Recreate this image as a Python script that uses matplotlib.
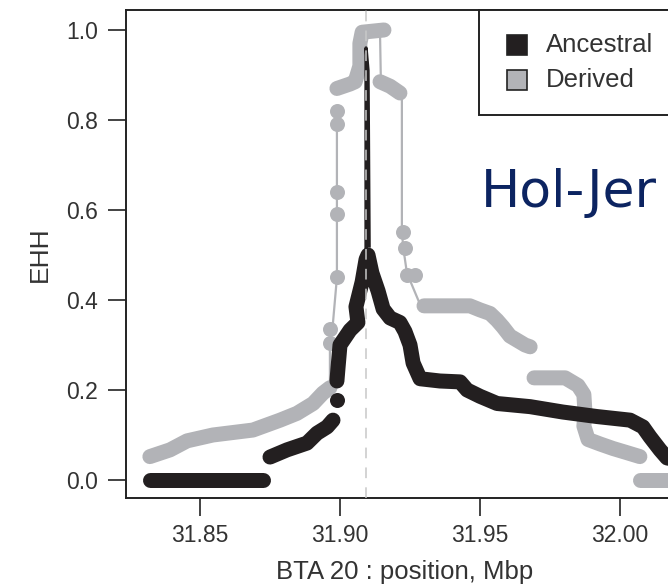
import matplotlib
matplotlib.use("Agg")
import matplotlib.pyplot as plt
from matplotlib.patches import Rectangle

plt.rcParams['font.family'] = ['Liberation Sans', 'DejaVu Sans']

# ---------------- data (position in Mbp, EHH) ----------------
# Ancestral allele: dense runs of SNPs (drawn as thick bands)
anc_flat_pos = [31.8321, 31.8725]
anc_flat_ehh = [0.000, 0.000]
anc_left_pos = [31.8750, 31.8811, 31.8882, 31.8918, 31.8954, 31.8975]
anc_left_ehh = [0.051, 0.067, 0.082, 0.104, 0.118, 0.133]
anc_blob_pos = [31.8989]
anc_blob_ehh = [0.178]
anc_peak_pos = [31.8989, 31.8993, 31.9000, 31.9036, 31.9064, 31.9057, 31.9079, 31.9093,
                31.9100, 31.9114, 31.9136, 31.9154, 31.9179, 31.9214, 31.9232, 31.9250,
                31.9261, 31.9286, 31.9357, 31.9429, 31.9454, 31.9500, 31.9561, 31.9679,
                31.9796, 31.9918, 32.0036, 32.0082, 32.0107, 32.0143, 32.0168, 32.0200]
anc_peak_ehh = [0.220, 0.250, 0.300, 0.333, 0.350, 0.385, 0.440, 0.490,
                0.500, 0.460, 0.420, 0.380, 0.360, 0.350, 0.330, 0.300,
                0.260, 0.225, 0.220, 0.218, 0.200, 0.186, 0.170, 0.163,
                0.151, 0.141, 0.133, 0.118, 0.096, 0.067, 0.049, 0.045]
# isolated SNPs near the core (thin connecting line)
anc_core_pos = [31.9093, 31.9093, 31.9100, 31.9104]
anc_core_ehh = [0.500, 0.960, 0.910, 0.520]

# Derived allele
der_left_pos = [31.8321, 31.8393, 31.8454, 31.8546, 31.8689, 31.8786, 31.8846,
                31.8904, 31.8939, 31.8964]
der_left_ehh = [0.052, 0.067, 0.087, 0.100, 0.111, 0.133, 0.148,
                0.170, 0.193, 0.205]
der_rise_pos = [31.8964, 31.8964, 31.8975, 31.8989, 31.8989]
der_rise_ehh = [0.205, 0.305, 0.350, 0.450, 0.830]
der_rise_blob_pos = [31.8964, 31.8964, 31.8989, 31.8989, 31.8989, 31.8989, 31.8989]
der_rise_blob_ehh = [0.305, 0.335, 0.450, 0.590, 0.640, 0.790, 0.820]
der_top_pos = [31.8989, 31.9036, 31.9054, 31.9071, 31.9071, 31.9079, 31.9157]
der_top_ehh = [0.870, 0.880, 0.885, 0.920, 0.970, 0.995, 1.000]
der_drop1_pos = [31.9143, 31.9146]
der_drop1_ehh = [0.990, 0.885]
der_shoulder_pos = [31.9143, 31.9179, 31.9214]
der_shoulder_ehh = [0.885, 0.875, 0.860]
der_drop2_pos = [31.9221, 31.9221, 31.9225, 31.9239, 31.9286]
der_drop2_ehh = [0.860, 0.560, 0.520, 0.460, 0.390]
der_drop2_blob_pos = [31.9225, 31.9232, 31.9239, 31.9268]
der_drop2_blob_ehh = [0.550, 0.515, 0.455, 0.455]
der_mid_pos = [31.9300, 31.9464, 31.9500, 31.9536, 31.9561, 31.9582, 31.9607,
               31.9661, 31.9679]
der_mid_ehh = [0.387, 0.387, 0.378, 0.370, 0.355, 0.340, 0.320,
               0.300, 0.296]
der_low_pos = [31.9693, 31.9804, 31.9850, 31.9871, 31.9875, 31.9871, 31.9886,
               31.9929, 31.9975, 32.0018, 32.0071]
der_low_ehh = [0.227, 0.227, 0.210, 0.190, 0.150, 0.120, 0.090,
               0.080, 0.070, 0.062, 0.052]
der_zero_pos = [32.0071, 32.0250]
der_zero_ehh = [0.000, 0.000]

core_snp = 31.9093
x_ticks = [31.85, 31.90, 31.95, 32.00]
x_ticklabels = ["31.85", "31.90", "31.95", "32.00"]
y_ticks = [0.0, 0.2, 0.4, 0.6, 0.8, 1.0]
y_ticklabels = ["0.0", "0.2", "0.4", "0.6", "0.8", "1.0"]
legend_labels = ["Ancestral", "Derived"]
panel_label = "Hol-Jer"

# ---------------- style ----------------
C_ANC = '#231f20'
C_DER = '#b2b3b7'
TXT = '#333333'
W, H = 668, 587
fig = plt.figure(figsize=(W / 100, H / 100), dpi=100)
AX_L, AX_B, AX_W, AX_H = 126, 89, 600, 488
ax = fig.add_axes([AX_L / W, AX_B / H, AX_W / W, AX_H / H])

x0 = 31.85 - (200 - AX_L) / 2800
ax.set_xlim(x0, x0 + AX_W / 2800)
ax.set_ylim(-0.04, 1.0444)

BAND = 10.8
thick = dict(lw=BAND, solid_capstyle='round', solid_joinstyle='round')

# derived (grey) first
for xs, ys in [(der_left_pos, der_left_ehh), (der_top_pos, der_top_ehh),
               (der_shoulder_pos, der_shoulder_ehh), (der_mid_pos, der_mid_ehh),
               (der_low_pos, der_low_ehh), (der_zero_pos, der_zero_ehh)]:
    ax.plot(xs, ys, color=C_DER, zorder=2, **thick)
for xs, ys in [(der_rise_pos, der_rise_ehh), (der_drop1_pos, der_drop1_ehh),
               (der_drop2_pos, der_drop2_ehh)]:
    ax.plot(xs, ys, color=C_DER, lw=1.6, zorder=2)
for xs, ys in [(der_rise_blob_pos, der_rise_blob_ehh), (der_drop2_blob_pos, der_drop2_blob_ehh)]:
    ax.plot(xs, ys, 'o', color=C_DER, ms=BAND, mew=0, zorder=2)

# ancestral (black)
for xs, ys in [(anc_flat_pos, anc_flat_ehh), (anc_left_pos, anc_left_ehh),
               (anc_peak_pos, anc_peak_ehh)]:
    ax.plot(xs, ys, color=C_ANC, zorder=3, **thick)
ax.plot(anc_blob_pos, anc_blob_ehh, 'o', color=C_ANC, ms=BAND, mew=0, zorder=3)
ax.plot(anc_core_pos, anc_core_ehh, color=C_ANC, lw=2.4, zorder=3)

# core SNP marker line
ax.axvline(core_snp, color='#c8c8c8', lw=1.1, ls=(0, (7, 6)), zorder=4, clip_on=False)

# axes styling
for s in ax.spines.values():
    s.set_linewidth(1.4)
    s.set_color('#222222')
ax.set_xticks(x_ticks)
ax.set_xticklabels(x_ticklabels)
ax.set_yticks(y_ticks)
ax.set_yticklabels(y_ticklabels)
ax.tick_params(axis='both', length=13, width=1.2, color='#222222',
               labelsize=16.5, labelcolor=TXT)
ax.tick_params(axis='x', pad=6)
ax.tick_params(axis='y', pad=7)
ax.set_xlabel("BTA 20 : position, Mbp", fontsize=18.5, color=TXT)
ax.set_ylabel("EHH", fontsize=19, color=TXT)
ax.xaxis.set_label_coords((405 - AX_L) / AX_W, (H - AX_B - 560) / AX_H)
ax.yaxis.set_label_coords((52 - AX_L) / AX_W, 0.5)


def axf(px, py):
    return ((px - AX_L) / AX_W, (H - AX_B - py) / AX_H)


# legend box (cropped by the figure edge like the reference)
lx, ly = axf(479, 115)
ax.add_patch(Rectangle((lx, ly), 1.0, (115 - 10) / AX_H, transform=ax.transAxes,
                       facecolor='white', edgecolor='#222222', lw=1.4,
                       clip_on=False, zorder=6))
for (py, col), lab in zip([(45, C_ANC), (80, C_DER)], legend_labels):
    mx, my = axf(517, py)
    ax.plot([mx], [my], 's', ms=14.5, color=col, mec='#222222', mew=1.2,
            transform=ax.transAxes, clip_on=False, zorder=7)
    tx, ty = axf(546, py)
    ax.text(tx, ty, lab, transform=ax.transAxes, fontsize=18.5, color=TXT,
            va='center', ha='left', zorder=7)

fig.text(481 / W, (H - 207) / H, panel_label, fontsize=37.5, color='#0c2461',
         family=['DejaVu Sans'], va='baseline', ha='left')

fig.savefig("out.png", dpi=100)
